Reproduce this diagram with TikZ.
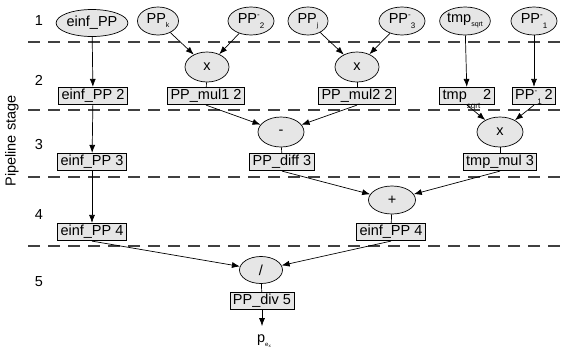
\documentclass[tikz,border=0pt]{standalone}
\usepackage{fontspec}
\setmainfont{Liberation Sans}
\usetikzlibrary{arrows.meta,shapes.geometric}
\newcommand{\subs}[1]{\raisebox{-4pt}{\fontsize{7}{7}\selectfont #1}}
\newcommand{\supsub}[2]{\raisebox{6pt}{\fontsize{8}{8}\selectfont #1}\raisebox{-5pt}{\fontsize{8}{8}\selectfont #2}}
\definecolor{nodefill}{HTML}{E6E6E6}
\definecolor{dashcol}{HTML}{404040}
\tikzset{
  every node/.style={font=\fontsize{14.5}{16}\selectfont},
  opnode/.style={ellipse, draw=black, line width=0.7pt, fill=nodefill, inner sep=0pt},
  regbox/.style={rectangle, draw=black, line width=0.7pt, fill=nodefill, inner xsep=3pt, inner ysep=2pt, text height=10.5pt, text depth=3pt},
  stagesep/.style={draw=dashcol, line width=1.1pt, dash pattern=on 12pt off 8pt},
  flow/.style={draw=black, line width=0.7pt, -{Latex[length=8pt,width=6pt]}},
  link/.style={draw=black, line width=0.7pt},
  stagelbl/.style={inner sep=0pt}
}
\begin{document}
\begin{tikzpicture}[x=1pt,y=-1pt]
\useasboundingbox (0,0) rectangle (563,354);
% stage separators
\draw[stagesep] (28,42) -- (563,42);
\draw[stagesep] (28,110) -- (563,110);
\draw[stagesep] (28,177) -- (563,177);
\draw[stagesep] (28,246) -- (563,246);
% stage labels
\node[stagelbl] (s1) at (39,21) {1};
\node[stagelbl] (s2) at (39,80) {2};
\node[stagelbl] (s3) at (39,145) {3};
\node[stagelbl] (s4) at (39,215) {4};
\node[stagelbl] (s5) at (39,282) {5};
\node[stagelbl, rotate=90] (axis) at (12,141) {Pipeline stage};
% stage 1
\node[opnode, minimum width=71pt, minimum height=27pt] (e1) at (92,23) {einf\_PP};
\node[opnode, minimum width=41pt, minimum height=28pt] (ppk) at (158,21) {PP\subs{k}};
\node[opnode, minimum width=46pt, minimum height=28pt] (pp2) at (251,21) {PP\supsub{-}{2}};
\node[opnode, minimum width=40pt, minimum height=28pt] (ppj) at (308,21) {PP\subs{j}};
\node[opnode, minimum width=46pt, minimum height=28pt] (pp3) at (402,21) {PP\supsub{-}{3}};
\node[opnode, minimum width=44pt, minimum height=28pt] (tsq) at (465,21) {tmp\subs{sqrt}};
\node[opnode, minimum width=46pt, minimum height=28pt] (pp1) at (534,21) {PP\supsub{-}{1}};
% stage 2
\node[opnode, minimum width=44pt, minimum height=30pt] (x1) at (207,67) {x};
\node[opnode, minimum width=44pt, minimum height=30pt] (x2) at (357,67) {x};
\node[regbox] (be2) at (93,96) {einf\_PP 2};
\node[regbox] (bm1) at (206,96) {PP\_mul1 2};
\node[regbox] (bm2) at (357,96) {PP\_mul2 2};
\node[regbox] (bt2) at (467,96) {tmp\raisebox{-9pt}{\fontsize{8}{8}\selectfont sqrt}\hspace{3pt}2};
\node[regbox] (bp12) at (534,96) {PP\supsub{-}{1}\hspace{3pt}2};
% stage 3
\node[opnode, minimum width=46pt, minimum height=30pt] (minus) at (281,132) {-};
\node[opnode, minimum width=46pt, minimum height=30pt] (x3) at (500,132) {x};
\node[regbox] (be3) at (92,162) {einf\_PP 3};
\node[regbox] (bd3) at (282,162) {PP\_diff 3};
\node[regbox] (btm3) at (500,162) {tmp\_mul 3};
% stage 4
\node[opnode, minimum width=47pt, minimum height=28pt] (plus) at (392,200) {+};
\node[regbox] (be4l) at (92,232) {einf\_PP 4};
\node[regbox] (be4r) at (391,232) {einf\_PP 4};
% stage 5
\node[opnode, minimum width=43pt, minimum height=27pt] (div) at (261,270) {/};
\node[regbox] (bdiv) at (262,301) {PP\_div 5};
\node[inner sep=0pt] (pex) at (264,341) {p\raisebox{-4pt}{\fontsize{6}{6}\selectfont e\raisebox{-1.5pt}{\fontsize{4.5}{4.5}\selectfont x}}};
% connectors
\draw[flow] (e1) -- (be2);
\draw[flow] (be2) -- (be3);
\draw[flow] (be3) -- (be4l);
\draw[flow] (ppk) -- (x1);
\draw[flow] (pp2) -- (x1);
\draw[flow] (ppj) -- (x2);
\draw[flow] (pp3) -- (x2);
\draw[flow] (tsq) -- (bt2);
\draw[flow] (pp1) -- (bp12);
\draw[link] (x1) -- (bm1);
\draw[link] (x2) -- (bm2);
\draw[flow] (bm1.south) -- (minus);
\draw[flow] (bm2.south) -- (minus);
\draw[flow] (bt2.south) -- (x3);
\draw[flow] (bp12.south) -- (x3);
\draw[link] (minus) -- (bd3);
\draw[link] (x3) -- (btm3);
\draw[flow] (bd3.south) -- (plus);
\draw[flow] (btm3.south) -- (plus);
\draw[link] (plus) -- (be4r);
\draw[flow] (be4l.south) -- (div);
\draw[flow] (be4r.south) -- (div);
\draw[link] (div) -- (bdiv);
\draw[flow] (bdiv) -- ([yshift=-16pt]bdiv.south);
\end{tikzpicture}
\end{document}
